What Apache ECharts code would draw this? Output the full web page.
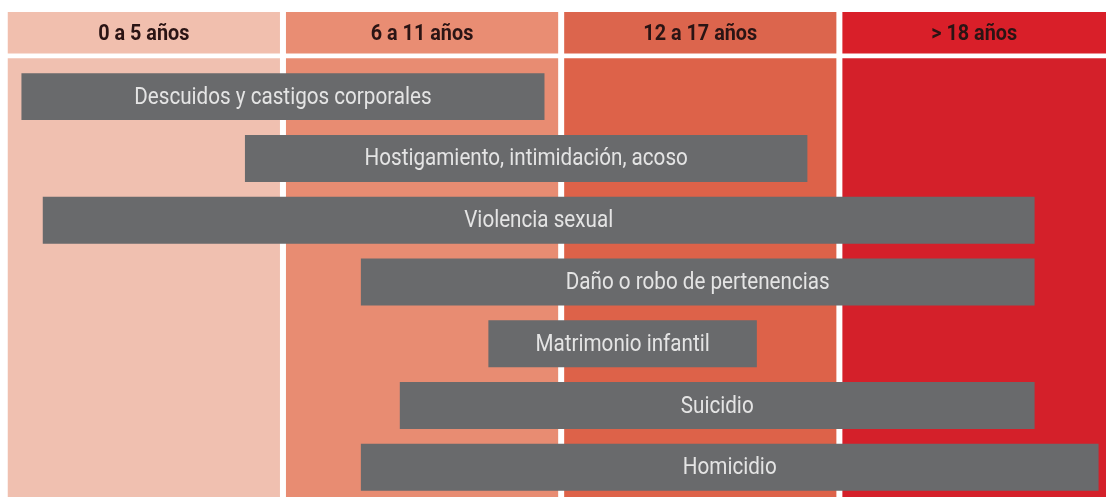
<!DOCTYPE html>
<html>
<head>
<meta charset="utf-8">
<script src="https://cdn.jsdelivr.net/npm/echarts@6/dist/echarts.min.js"></script>
<style>
html,body{margin:0;padding:0;background:#fff;}
#main{width:1106px;height:497px;}
</style>
</head>
<body>
<div id="main"></div>
<script>
// Age bands (x in years)
const bandLabels = ['0 a 5 años', '6 a 11 años', '12 a 17 años', '> 18 años'];
const bandStart = [0, 6, 12, 18];
const bandEnd = [6, 12, 18, 24];
const bandColors = ['#f0c0b0', '#e88c72', '#dd6249', '#d4202a'];
const headerColors = ['#f1bfae', '#e98d73', '#dc654d', '#d91f29'];

// Forms of violence and the age range (years) they span
const categories = [
  'Descuidos y castigos corporales',
  'Hostigamiento, intimidación, acoso',
  'Violencia sexual',
  'Daño o robo de pertenencias',
  'Matrimonio infantil',
  'Suicidio',
  'Homicidio'
];
const rangeStart = [0.36, 5.18, 0.82, 7.68, 10.43, 8.52, 7.68];
const rangeEnd = [11.64, 17.31, 22.21, 22.21, 16.22, 22.21, 23.59];

const chart = echarts.init(document.getElementById('main'), null, {renderer: 'canvas'});

const HEADER_TOP = -0.37, HEADER_BOTTOM = 0.30, BODY_TOP = 0.38, BODY_BOTTOM = 7.48;
const FONT = 'Roboto, "Noto Sans", sans-serif';

const bandData = bandLabels.map((l, i) => [bandStart[i], bandEnd[i], i]);
const barData = categories.map((c, i) => [rangeStart[i], rangeEnd[i], i + 1]);

chart.setOption({
  animation: false,
  backgroundColor: '#ffffff',
  grid: {left: 4.75, right: 0, top: 12, bottom: 0},
  xAxis: {type: 'value', min: 0, max: 23.75, show: false},
  yAxis: {type: 'value', inverse: true, min: HEADER_TOP, max: BODY_BOTTOM, show: false},
  series: [
    {
      type: 'custom',
      data: bandData,
      z: 1,
      renderItem: function (params, api) {
        const i = api.value(2);
        const gap = 3;
        const hTop = api.coord([api.value(0), HEADER_TOP]);
        const hBot = api.coord([api.value(1), HEADER_BOTTOM]);
        const bTop = api.coord([api.value(0), BODY_TOP]);
        const bBot = api.coord([api.value(1), BODY_BOTTOM]);
        const x0 = hTop[0] + gap, x1 = hBot[0] - gap;
        return {
          type: 'group',
          children: [
            {type: 'rect', shape: {x: x0, y: hTop[1], width: x1 - x0, height: hBot[1] - hTop[1]},
             style: {fill: headerColors[i]}},
            {type: 'rect', shape: {x: x0, y: bTop[1], width: x1 - x0, height: bBot[1] - bTop[1]},
             style: {fill: bandColors[i]}},
            {type: 'text', x: (x0 + Math.min(x1, 1106)) / 2, y: (hTop[1] + hBot[1]) / 2 + 2,
             scaleX: 0.9,
             style: {text: bandLabels[i], fill: '#2a1414', font: 'bold 22px ' + FONT,
                     align: 'center', verticalAlign: 'middle'}}
          ]
        };
      }
    },
    {
      type: 'custom',
      data: barData,
      z: 2,
      renderItem: function (params, api) {
        const row = api.value(2);
        const p0 = api.coord([api.value(0), row]);
        const p1 = api.coord([api.value(1), row]);
        const h = api.size([0, 0.76])[1];
        return {
          type: 'group',
          children: [
            {type: 'rect', shape: {x: p0[0], y: p0[1] - h / 2, width: p1[0] - p0[0], height: h},
             style: {fill: '#696a6c'}},
            {type: 'text', x: (p0[0] + p1[0]) / 2, y: p0[1] + 1, scaleX: 0.86,
             style: {text: categories[params.dataIndex], fill: '#e4e4e4', font: '24px ' + FONT,
                     align: 'center', verticalAlign: 'middle'}}
          ]
        };
      }
    }
  ]
});
</script>
</body>
</html>
